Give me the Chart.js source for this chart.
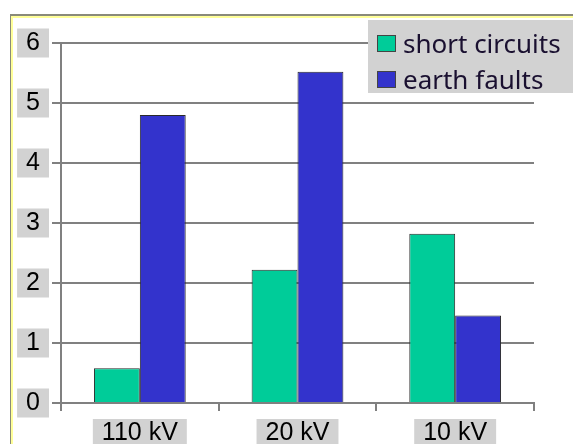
<!DOCTYPE html>
<html lang="en">
<head>
  <meta charset="UTF-8">
  <title>Short circuits and earth faults by voltage level</title>
  <script src="https://cdn.jsdelivr.net/npm/chart.js"></script>
  <style>
    body {
      margin: 0;
      background: #fff;
    }
    .wrap {
      position: relative;
      width: 573px;
      height: 444px;
      overflow: hidden;
    }
    .legend {
      position: absolute;
      left: 368px;
      top: 20px;
      width: 205px;
      height: 73px;
      background: #d2d2d2;
      font-family: "Noto Sans", sans-serif;
      font-size: 26px;
      color: #1a1030;
    }
    .legend .row {
      position: absolute;
      left: 9px;
      height: 36px;
      display: flex;
      align-items: center;
      white-space: nowrap;
    }
    .legend .sw {
      width: 17px;
      height: 15px;
      border: 1px solid #444;
      margin-right: 7px;
    }
  </style>
</head>
<body>
  <div class="wrap">
    <canvas id="chart" width="573" height="444"></canvas>
    <div class="legend" id="legend"></div>
  </div>

  <script>
    const categories = ['110 kV', '20 kV', '10 kV'];
    const shortCircuits = [0.58, 2.22, 2.82];
    const earthFaults = [4.8, 5.52, 1.46];
    const seriesNames = ['short circuits', 'earth faults'];
    const seriesColors = ['#00cc99', '#3333cc'];

    // frame around the whole picture (gray line + pale yellow inner line)
    const framePlugin = {
      id: 'frame',
      beforeDraw(chart) {
        const ctx = chart.ctx;
        ctx.save();
        ctx.fillStyle = '#fff';
        ctx.fillRect(0, 0, chart.width, chart.height);
        ctx.fillStyle = '#8a8a7a';
        ctx.fillRect(10, 14, chart.width - 10, 2);
        ctx.fillRect(10, 14, 1, chart.height - 14);
        ctx.fillStyle = '#ffff99';
        ctx.fillRect(11, 16, chart.width - 11, 2);
        ctx.fillRect(11, 16, 2, chart.height - 16);
        ctx.restore();
      }
    };

    const tickFont = { family: '"Liberation Sans", Arial, sans-serif', size: 25, lineHeight: 1.0 };

    new Chart(document.getElementById('chart'), {
      type: 'bar',
      data: {
        labels: categories,
        datasets: [
          {
            label: seriesNames[0],
            data: shortCircuits,
            backgroundColor: seriesColors[0],
            borderColor: '#2a2a2a',
            borderWidth: 1
          },
          {
            label: seriesNames[1],
            data: earthFaults,
            backgroundColor: seriesColors[1],
            borderColor: '#2a2a2a',
            borderWidth: 1
          }
        ]
      },
      options: {
        responsive: false,
        animation: false,
        layout: { padding: { left: 0, top: 43, right: 39, bottom: 0 } },
        datasets: {
          bar: { categoryPercentage: 0.582, barPercentage: 1.0 }
        },
        plugins: {
          legend: { display: false },
          tooltip: { enabled: false }
        },
        scales: {
          x: {
            offset: true,
            grid: {
              offset: true,
              drawOnChartArea: false,
              drawTicks: true,
              tickLength: 8,
              color: '#808080',
              lineWidth: 2
            },
            border: { color: '#808080', width: 2 },
            ticks: {
              font: tickFont,
              color: '#000',
              padding: 10,
              autoSkip: false,
              maxRotation: 0,
              showLabelBackdrop: true,
              backdropColor: '#d2d2d2',
              backdropPadding: { x: 9, y: 2 }
            },
            afterFit(scale) { scale.height = 41; }
          },
          y: {
            min: 0,
            max: 6,
            grid: {
              tickLength: 9,
              color: '#808080',
              lineWidth: 2
            },
            border: { color: '#808080', width: 2 },
            ticks: {
              stepSize: 1,
              font: tickFont,
              color: '#000',
              padding: 12,
              showLabelBackdrop: true,
              backdropColor: '#d2d2d2',
              backdropPadding: { x: 9, y: 2 }
            },
            afterFit(scale) { scale.width = 61; }
          }
        }
      },
      plugins: [framePlugin]
    });

    // legend overlay built from the series
    const legend = document.getElementById('legend');
    seriesNames.forEach((name, i) => {
      const row = document.createElement('div');
      row.className = 'row';
      row.style.top = (5 + i * 36) + 'px';
      const sw = document.createElement('span');
      sw.className = 'sw';
      sw.style.background = seriesColors[i];
      const txt = document.createElement('span');
      txt.textContent = name;
      row.appendChild(sw);
      row.appendChild(txt);
      legend.appendChild(row);
    });
  </script>
</body>
</html>
